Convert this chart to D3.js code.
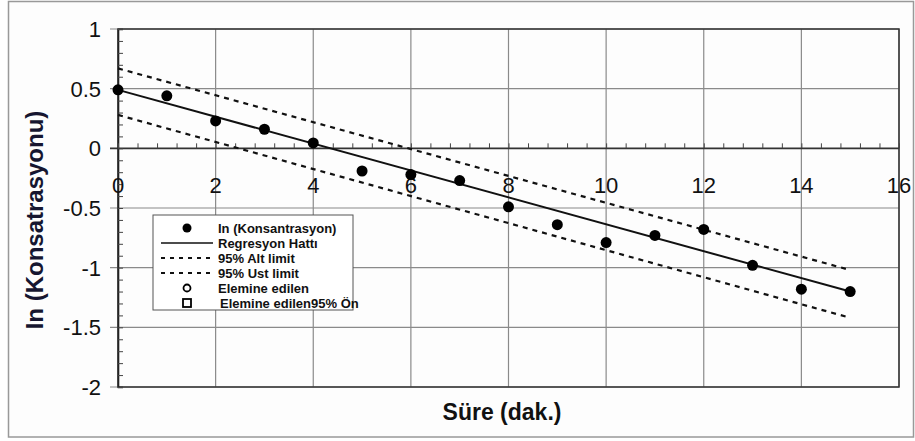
<!DOCTYPE html>
<html>
<head>
<meta charset="utf-8">
<script src="https://cdn.jsdelivr.net/npm/d3@7"></script>
<style>
  body { margin: 0; background: #fff; }
  svg { display: block; font-family: "Liberation Sans", Arial, sans-serif; }
</style>
</head>
<body>
<div id="chart"></div>
<script>
// measured points: ln(concentration) vs time (min)
const timeVals = [0, 1, 2, 3, 4, 5, 6, 7, 8, 9, 10, 11, 12, 13, 14, 15];
const lnConc = [0.49, 0.44, 0.23, 0.16, 0.045, -0.19, -0.22, -0.27, -0.49, -0.64, -0.79, -0.73, -0.68, -0.98, -1.18, -1.2];

// regression line and 95% limits, given at the ends of the time range
const lineX = [0, 15];
const regY = [0.49, -1.2];
const upperY = [0.67, -1.02];
const lowerY = [0.28, -1.42];

const xTicks = [0, 2, 4, 6, 8, 10, 12, 14, 16];
const yTicks = [1, 0.5, 0, -0.5, -1, -1.5, -2];

const legendLabels = ['In (Konsantrasyon)', 'Regresyon Hattı', '95% Alt limit', '95% Ust limit', 'Elemine edilen', 'Elemine edilen95% Ön'];

const W = 915, H = 441;

const svg = d3.select('#chart')
  .append('svg')
  .attr('width', W)
  .attr('height', H);

// outer frame
svg.append('rect')
  .attr('x', 8.5).attr('y', 1.5)
  .attr('width', 905).attr('height', 435.5)
  .attr('fill', '#fdfdfd')
  .attr('stroke', '#999')
  .attr('stroke-width', 1.5);

const x = d3.scaleLinear().domain([0, 16]).range([118, 899]);
const y = d3.scaleLinear().domain([-2, 1]).range([387, 29]);

// grid
svg.append('g')
  .selectAll('line')
  .data(xTicks)
  .enter()
  .append('line')
  .attr('x1', d => x(d)).attr('x2', d => x(d))
  .attr('y1', y(1)).attr('y2', y(-2))
  .attr('stroke', '#8a8a8a')
  .attr('stroke-width', 1.2);

svg.append('g')
  .selectAll('line')
  .data(yTicks)
  .enter()
  .append('line')
  .attr('x1', x(0) - 8).attr('x2', x(16))
  .attr('y1', d => y(d)).attr('y2', d => y(d))
  .attr('stroke', d => d === 0 ? '#333' : '#8a8a8a')
  .attr('stroke-width', d => d === 0 ? 1.6 : 1.2);

// plot border
svg.append('rect')
  .attr('x', x(0)).attr('y', y(1))
  .attr('width', x(16) - x(0)).attr('height', y(-2) - y(1))
  .attr('fill', 'none')
  .attr('stroke', '#333')
  .attr('stroke-width', 1.5);

// y axis with minor ticks pointing right
const yAxis = d3.axisRight(y)
  .tickValues(d3.range(-20, 11).map(d => d / 10))
  .tickSize(5)
  .tickFormat('');
svg.append('g')
  .attr('transform', 'translate(' + x(0) + ',0)')
  .call(yAxis)
  .call(g => g.select('.domain').attr('stroke', '#222').attr('stroke-width', 1.6))
  .call(g => g.selectAll('.tick line').attr('stroke', '#444'));

// x axis on y = 0 with minor ticks pointing up
const xAxis = d3.axisTop(x)
  .tickValues(d3.range(0, 41).map(d => d * 0.4))
  .tickSize(5)
  .tickSizeOuter(0)
  .tickFormat('');
svg.append('g')
  .attr('transform', 'translate(0,' + y(0) + ')')
  .call(xAxis)
  .call(g => g.select('.domain').remove())
  .call(g => g.selectAll('.tick line').attr('stroke', '#444'));

// tick labels
svg.append('g')
  .selectAll('text')
  .data(yTicks)
  .enter()
  .append('text')
  .attr('x', 101)
  .attr('y', d => y(d))
  .attr('dy', '0.36em')
  .attr('text-anchor', 'end')
  .attr('font-size', 22)
  .attr('fill', '#111')
  .text(d => d);

svg.append('g')
  .selectAll('text')
  .data(xTicks)
  .enter()
  .append('text')
  .attr('x', d => x(d))
  .attr('y', 193)
  .attr('text-anchor', 'middle')
  .attr('font-size', 22)
  .attr('fill', '#111')
  .text(d => d);

// limits and regression
const lineGen = d3.line()
  .x(d => x(d[0]))
  .y(d => y(d[1]));

svg.append('path')
  .datum(d3.zip(lineX, upperY))
  .attr('d', lineGen)
  .attr('fill', 'none')
  .attr('stroke', '#111')
  .attr('stroke-width', 2.2)
  .attr('stroke-dasharray', '5,5');

svg.append('path')
  .datum(d3.zip(lineX, lowerY))
  .attr('d', lineGen)
  .attr('fill', 'none')
  .attr('stroke', '#111')
  .attr('stroke-width', 2.2)
  .attr('stroke-dasharray', '5,5');

svg.append('path')
  .datum(d3.zip(lineX, regY))
  .attr('d', lineGen)
  .attr('fill', 'none')
  .attr('stroke', '#111')
  .attr('stroke-width', 2);

svg.append('g')
  .selectAll('circle')
  .data(d3.zip(timeVals, lnConc))
  .enter()
  .append('circle')
  .attr('cx', d => x(d[0]))
  .attr('cy', d => y(d[1]))
  .attr('r', 5.5)
  .attr('fill', '#000');

// axis titles
svg.append('text')
  .attr('transform', 'translate(43,220) rotate(-90)')
  .attr('text-anchor', 'middle')
  .attr('font-size', 24)
  .attr('font-weight', 'bold')
  .attr('fill', '#161630')
  .text('In (Konsatrasyonu)');

svg.append('text')
  .attr('x', 502)
  .attr('y', 420)
  .attr('text-anchor', 'middle')
  .attr('font-size', 23)
  .attr('font-weight', 'bold')
  .attr('fill', '#111')
  .text('Süre (dak.)');

// legend
const legend = svg.append('g').attr('transform', 'translate(153,215)');
legend.append('rect')
  .attr('width', 200).attr('height', 95)
  .attr('fill', '#fff')
  .attr('stroke', '#555')
  .attr('stroke-width', 1);

const rowY = d3.scalePoint().domain(d3.range(6)).range([13, 88]);

legend.selectAll('text')
  .data(legendLabels)
  .enter()
  .append('text')
  .attr('x', (d, i) => i === 5 ? 67 : 65)
  .attr('y', (d, i) => rowY(i))
  .attr('dy', '0.36em')
  .attr('font-size', 13)
  .attr('font-weight', 'bold')
  .attr('fill', '#111')
  .text(d => d);

legend.append('circle')
  .attr('cx', 34).attr('cy', rowY(0)).attr('r', 4.5).attr('fill', '#000');
legend.append('line')
  .attr('x1', 8).attr('x2', 60)
  .attr('y1', rowY(1)).attr('y2', rowY(1))
  .attr('stroke', '#111').attr('stroke-width', 1.5);
[2, 3].forEach(i => {
  legend.append('line')
    .attr('x1', 8).attr('x2', 60)
    .attr('y1', rowY(i)).attr('y2', rowY(i))
    .attr('stroke', '#111').attr('stroke-width', 2)
    .attr('stroke-dasharray', '4,5');
});
legend.append('circle')
  .attr('cx', 34).attr('cy', rowY(4)).attr('r', 3.5)
  .attr('fill', 'none').attr('stroke', '#000').attr('stroke-width', 1.8);
legend.append('rect')
  .attr('x', 30).attr('y', rowY(5) - 4)
  .attr('width', 8).attr('height', 8)
  .attr('fill', 'none').attr('stroke', '#000').attr('stroke-width', 1.8);
</script>
</body>
</html>
